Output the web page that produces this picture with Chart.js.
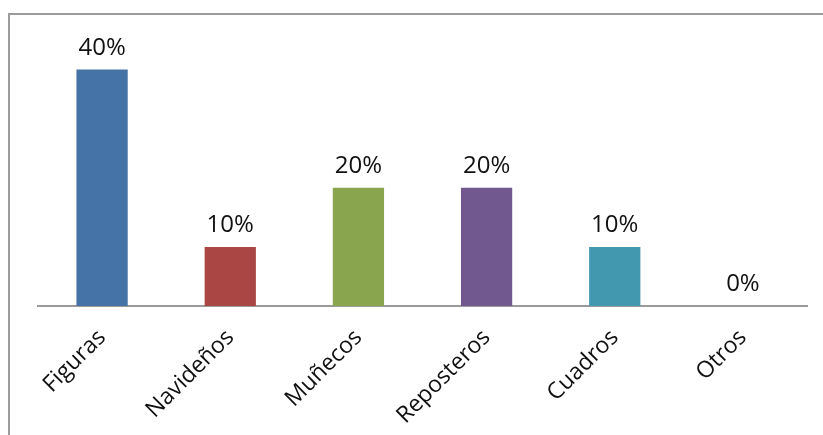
<!DOCTYPE html>
<html>
<head>
<meta charset="utf-8">
<script src="https://cdn.jsdelivr.net/npm/chart.js@4"></script>
<style>
  body { margin: 0; background: #fff; }
  #wrap { position: relative; width: 823px; height: 435px; overflow: hidden; }
  #frame {
    position: absolute; left: 8px; top: 13px; width: 900px; height: 500px;
    border-top: 2px solid #9c9c9c; border-left: 2px solid #9c9c9c;
  }
  canvas { position: absolute; left: 0; top: 0; }
</style>
</head>
<body>
<div id="wrap">
  <div id="frame"></div>
  <canvas id="barChart" width="823" height="435"></canvas>
</div>
<script>
const categories = ["Figuras", "Navideños", "Muñecos", "Reposteros", "Cuadros", "Otros"];
const percents = [40, 10, 20, 20, 10, 0];
const barColors = ["#4572A7", "#AA4643", "#89A54E", "#71588F", "#4198AF", "#DB843D"];

// writes the percentage above each bar
const valueLabels = {
  id: "valueLabels",
  afterDatasetsDraw(chart) {
    const ctx = chart.ctx;
    const meta = chart.getDatasetMeta(0);
    ctx.save();
    ctx.font = "24px 'Open Sans'";
    ctx.fillStyle = "#111";
    ctx.textAlign = "center";
    ctx.textBaseline = "alphabetic";
    meta.data.forEach((bar, i) => {
      ctx.fillText(percents[i] + "%", bar.x, bar.y - 15);
    });
    ctx.restore();
  },
};

const barChartConfig = {
  type: "bar",
  data: {
    labels: categories,
    datasets: [
      {
        data: percents,
        backgroundColor: barColors,
        borderWidth: 0,
        categoryPercentage: 0.8,
        barPercentage: 0.5,
      },
    ],
  },
  options: {
    responsive: false,
    animation: false,
    layout: { padding: { left: 38, right: 16, top: 40, bottom: 0 } },
    plugins: { legend: { display: false }, tooltip: { enabled: false } },
    scales: {
      x: {
        grid: { display: false, drawTicks: false },
        border: { display: true, color: "#9a9a9a", width: 2 },
        ticks: {
          color: "#111",
          font: { family: "'Open Sans'", size: 23 },
          minRotation: 45,
          maxRotation: 45,
          padding: 18,
        },
        afterFit(scale) {
          scale.height = 129;
        },
      },
      y: {
        display: false,
        min: 0,
        max: 45,
      },
    },
  },
  plugins: [valueLabels],
};

new Chart(document.getElementById("barChart").getContext("2d"), barChartConfig);
</script>
</body>
</html>
